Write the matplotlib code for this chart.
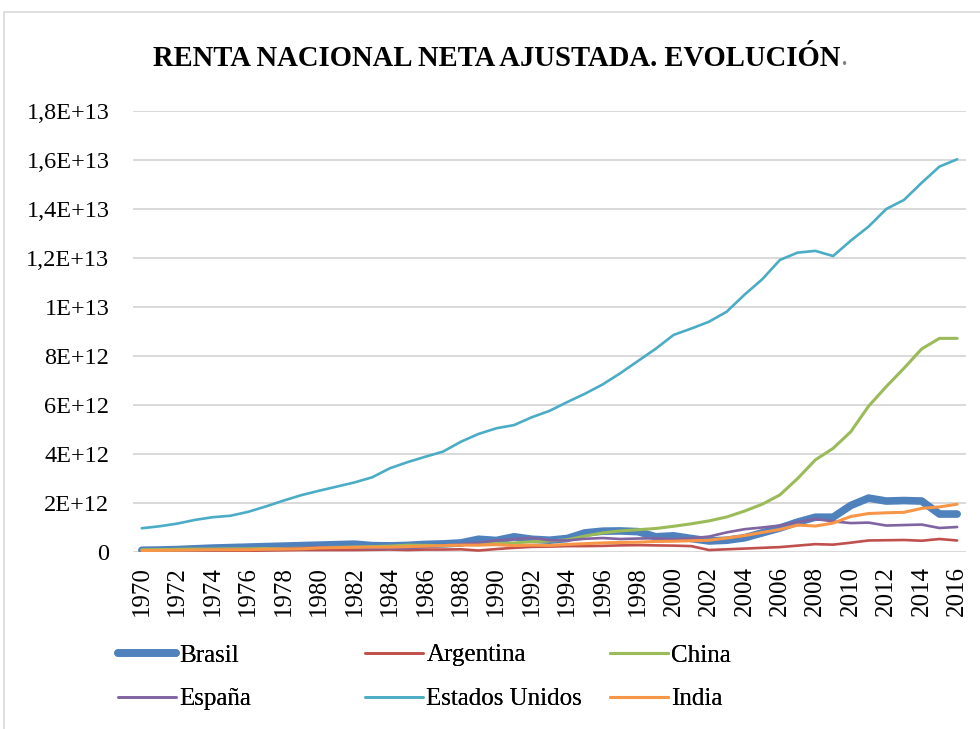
import matplotlib
matplotlib.use("Agg")
import matplotlib.pyplot as plt
from matplotlib.patches import Rectangle
from matplotlib.lines import Line2D

years = list(range(1970, 2017))

brasil = [0.07, 0.08, 0.10, 0.13, 0.16, 0.18, 0.20, 0.22, 0.24, 0.26,
          0.28, 0.30, 0.32, 0.26, 0.25, 0.27, 0.31, 0.33, 0.37, 0.52,
          0.47, 0.62, 0.52, 0.48, 0.55, 0.78, 0.85, 0.86, 0.83, 0.62,
          0.66, 0.55, 0.45, 0.48, 0.58, 0.78, 0.98, 1.22, 1.42, 1.42,
          1.90, 2.20, 2.08, 2.10, 2.08, 1.55, 1.55]
argentina = [0.03, 0.03, 0.03, 0.04, 0.05, 0.05, 0.05, 0.06, 0.07, 0.08,
             0.08, 0.08, 0.08, 0.09, 0.10, 0.08, 0.10, 0.10, 0.11, 0.06,
             0.12, 0.17, 0.21, 0.22, 0.24, 0.24, 0.25, 0.27, 0.28, 0.27,
             0.26, 0.24, 0.08, 0.11, 0.14, 0.17, 0.20, 0.26, 0.32, 0.30,
             0.38, 0.47, 0.48, 0.49, 0.46, 0.53, 0.47]
china = [0.09, 0.10, 0.11, 0.12, 0.12, 0.13, 0.13, 0.14, 0.14, 0.16,
         0.18, 0.19, 0.20, 0.22, 0.24, 0.28, 0.27, 0.26, 0.30, 0.33,
         0.35, 0.37, 0.42, 0.45, 0.50, 0.65, 0.78, 0.86, 0.91, 0.96,
         1.05, 1.15, 1.27, 1.43, 1.67, 1.95, 2.33, 3.00, 3.76, 4.23,
         4.91, 5.95, 6.75, 7.50, 8.29, 8.72, 8.72]
espana = [0.03, 0.04, 0.05, 0.07, 0.08, 0.09, 0.10, 0.11, 0.13, 0.17,
          0.20, 0.18, 0.17, 0.15, 0.15, 0.15, 0.21, 0.27, 0.32, 0.38,
          0.47, 0.52, 0.58, 0.48, 0.47, 0.54, 0.57, 0.53, 0.55, 0.56,
          0.52, 0.56, 0.63, 0.80, 0.93, 1.00, 1.08, 1.22, 1.35, 1.25,
          1.18, 1.20, 1.08, 1.10, 1.12, 0.98, 1.02]
eeuu = [0.97, 1.05, 1.16, 1.31, 1.42, 1.48, 1.64, 1.86, 2.10, 2.32,
        2.50, 2.67, 2.84, 3.05, 3.42, 3.67, 3.89, 4.10, 4.50, 4.82,
        5.05, 5.18, 5.50, 5.76, 6.12, 6.46, 6.84, 7.30, 7.80, 8.30,
        8.86, 9.12, 9.40, 9.81, 10.50, 11.13, 11.92, 12.22, 12.29, 12.08,
        12.71, 13.28, 14.00, 14.37, 15.07, 15.73, 16.03]
india = [0.06, 0.065, 0.07, 0.08, 0.09, 0.09, 0.095, 0.11, 0.12, 0.13,
         0.17, 0.18, 0.19, 0.20, 0.20, 0.22, 0.24, 0.26, 0.28, 0.28,
         0.30, 0.26, 0.28, 0.27, 0.31, 0.34, 0.37, 0.39, 0.40, 0.43,
         0.44, 0.46, 0.48, 0.57, 0.67, 0.80, 0.92, 1.10, 1.06, 1.18,
         1.45, 1.57, 1.60, 1.62, 1.78, 1.84, 1.95]

series_names = ["Brasil", "Argentina", "China", "España", "Estados Unidos", "India"]
series_vals = [brasil, argentina, china, espana, eeuu, india]
colors = ["#4F81BD", "#C0504D", "#9BBB59", "#8064A2", "#4BACC6", "#F79646"]
widths = [5.5, 1.9, 2.2, 1.9, 1.9, 2.2]

yticks = [0, 2e12, 4e12, 6e12, 8e12, 1e13, 1.2e13, 1.4e13, 1.6e13, 1.8e13]
ytick_labels = ["0", "2E+12", "4E+12", "6E+12", "8E+12", "1E+13",
                "1,2E+13", "1,4E+13", "1,6E+13", "1,8E+13"]
xtick_years = years[::2]

title = "RENTA NACIONAL NETA AJUSTADA. EVOLUCIÓN"

W, H = 980, 729
fig = plt.figure(figsize=(W / 100, H / 100), dpi=100)
fig.patch.set_facecolor("white")

# outer chart frame
fig.add_artist(Rectangle((4 / W, -0.1), 1.2, (H - 12) / H + 0.1,
                         transform=fig.transFigure, fill=False,
                         edgecolor="#D9D9D9", linewidth=1.2))

ax = fig.add_axes([133 / W, 1 - 552 / H, (966 - 133) / W, (552 - 111) / H])
for name, vals, c, lw in zip(series_names, series_vals, colors, widths):
    ax.plot(years, [v * 1e12 for v in vals], color=c, linewidth=lw,
            solid_capstyle="round", solid_joinstyle="round", label=name, zorder=3)

ax.set_xlim(1969.5, 2016.5)
ax.set_ylim(0, 1.8e13)
ax.set_yticks(yticks)
ax.set_yticklabels(ytick_labels, family="Liberation Serif", fontsize=17.5)
ax.set_xticks(xtick_years)
ax.set_xticklabels([str(y) for y in xtick_years], family="Liberation Serif",
                   fontsize=18, rotation=90)
ax.tick_params(axis="y", length=0, pad=17)
ax.tick_params(axis="x", length=0, pad=10)
ax.grid(axis="y", color="#D9D9D9", linewidth=1.4, zorder=0)
ax.set_axisbelow(True)
for s in ax.spines.values():
    s.set_visible(False)

# title
t = fig.text(153 / W, 1 - 58 / H, title, ha="left", va="center",
             family="Liberation Serif", fontweight="bold", fontsize=20.6,
             color="black")
fig.canvas.draw()
bb = t.get_window_extent()
fig.text(bb.x1 / W, 1 - 58 / H, ".", ha="left", va="center",
         family="Liberation Serif", fontsize=20.6, color="#7F7F7F")

# legend: three columns
handles = [Line2D([], [], color=c, linewidth=lw, solid_capstyle="round")
           for c, lw in zip(colors, widths)]
col_x = [118, 365, 610]
for i in range(3):
    idx = [i, i + 3]
    lg = fig.legend([handles[j] for j in idx], [series_names[j] for j in idx],
                    loc="upper left", bbox_to_anchor=(col_x[i] / W, 1 - 644 / H),
                    frameon=False, ncol=1, handlelength=2.3, handletextpad=0.15,
                    labelspacing=0.85, borderaxespad=0, borderpad=0,
                    prop={"family": "Liberation Serif", "size": 18})
    fig.add_artist(lg)

fig.savefig("out.png", dpi=100, facecolor="white")
